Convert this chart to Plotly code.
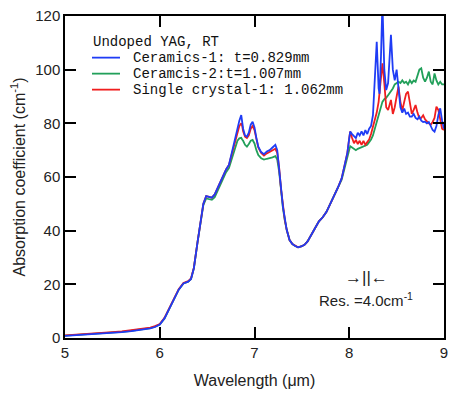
import plotly.graph_objects as go

# Wavelength grid (µm)
wavelength = [5.0, 5.1, 5.2, 5.3, 5.4, 5.5, 5.6, 5.7, 5.8, 5.9, 5.95,
              6.0, 6.05, 6.1, 6.15, 6.2, 6.25, 6.3, 6.33, 6.36, 6.4, 6.43, 6.46, 6.49,
              6.52, 6.55, 6.58, 6.62, 6.66, 6.7, 6.73, 6.76, 6.79, 6.82, 6.84, 6.86,
              6.87, 6.88, 6.9, 6.92, 6.94, 6.96, 6.98, 7.0, 7.02, 7.04, 7.07, 7.1,
              7.13, 7.16, 7.19, 7.22, 7.24, 7.26, 7.28, 7.3, 7.32, 7.34, 7.37, 7.4,
              7.43, 7.46, 7.5, 7.53, 7.56, 7.6, 7.64, 7.68, 7.72, 7.76, 7.8, 7.84,
              7.88, 7.92, 7.95, 7.98, 8.0, 8.01, 8.03, 8.05, 8.07, 8.09, 8.11, 8.13,
              8.15, 8.17, 8.19, 8.21, 8.23, 8.25, 8.27, 8.29, 8.31, 8.32, 8.335, 8.35,
              8.37, 8.39, 8.41, 8.44, 8.46, 8.48, 8.5, 8.52, 8.54, 8.56, 8.58, 8.6,
              8.62, 8.64, 8.66, 8.68, 8.7, 8.72, 8.74, 8.76, 8.78, 8.8, 8.82, 8.84,
              8.86, 8.88, 8.9, 8.92, 8.94, 8.96, 8.98, 9.0]

ceramics1 = [0.8, 1.0, 1.2, 1.4, 1.6, 1.9, 2.2, 2.6, 3.0, 3.6, 4.1,
             5.0, 7.3, 11.0, 14.5, 18.0, 20.3, 21.0, 22.0, 26.0, 36.0, 43.0, 50.0, 52.9,
             52.7, 52.3, 53.5, 56.5, 60.0, 62.8, 64.5, 69.0, 74.0, 78.5, 81.0, 83.1,
             80.0, 78.0, 75.5, 75.0, 76.5, 79.5, 80.6, 78.5, 74.5, 71.3, 69.3, 68.5,
             69.5, 70.0, 71.0, 72.0, 70.0, 64.0, 56.0, 49.0, 44.0, 40.3, 36.5, 35.0,
             34.3, 33.8, 34.2, 34.8, 36.0, 38.8, 41.0, 43.5, 45.0, 47.0, 49.8, 53.0,
             56.0, 59.5, 64.0, 69.0, 74.5, 76.9, 76.0, 75.2, 74.5, 76.5, 75.5, 77.0,
             75.5, 77.5, 76.0, 78.0, 79.0, 83.0, 95.0, 110.4, 93.0, 91.0, 105.0, 125.0,
             100.0, 92.4, 95.0, 113.0, 100.0, 96.0, 100.0, 92.0, 86.0, 84.0, 85.5, 83.5,
             84.0, 82.5, 82.5, 83.5, 82.0, 81.5, 82.5, 81.0, 80.5, 80.6, 80.0, 80.5,
             79.0, 77.5, 76.9, 79.0, 83.0, 85.6, 81.0, 78.0]

ceramics2 = [0.9, 1.1, 1.3, 1.5, 1.7, 2.0, 2.3, 2.7, 3.1, 3.7, 4.2,
             5.0, 7.3, 11.0, 14.5, 18.0, 20.3, 21.0, 22.0, 26.0, 36.0, 43.0, 49.5, 52.0,
             51.8, 51.5, 52.5, 55.5, 59.0, 61.8, 63.3, 66.5, 70.0, 73.5, 74.4, 74.6,
             74.0, 73.5, 72.0, 71.3, 72.3, 73.5, 73.8, 72.5, 70.0, 68.2, 67.0, 66.5,
             66.8, 67.0, 67.3, 67.8, 66.5, 62.0, 55.0, 48.5, 43.8, 40.3, 36.5, 35.0,
             34.3, 33.8, 34.2, 34.8, 36.0, 38.8, 41.0, 43.5, 45.0, 47.0, 49.8, 53.0,
             56.0, 59.0, 63.0, 67.5, 70.5, 71.5, 71.0, 70.5, 70.0, 70.5, 70.8, 71.0,
             71.3, 71.5, 72.0, 73.0, 74.0, 75.5, 78.0, 81.0, 83.0, 84.5, 86.5, 88.0,
             89.0, 89.5, 90.5, 92.0, 93.0, 94.5, 95.0, 95.5, 95.0, 96.0, 95.0, 95.5,
             94.5, 96.0, 95.0, 96.0, 95.5, 97.5, 100.0, 100.5, 97.0, 95.5, 97.0, 99.3,
             95.5, 94.5, 98.6, 96.0, 94.5, 95.5, 94.5, 94.5]

single_crystal1 = [1.0, 1.2, 1.4, 1.7, 1.9, 2.2, 2.5, 2.9, 3.3, 3.9, 4.4,
                   5.2, 7.5, 11.2, 14.7, 18.2, 20.5, 21.2, 22.2, 26.2, 36.0, 43.0, 50.0, 52.9,
                   52.7, 52.3, 53.5, 56.5, 60.0, 62.8, 64.5, 68.5, 73.0, 77.0, 79.0, 80.0,
                   79.0, 77.0, 75.0, 74.5, 75.5, 78.0, 79.0, 77.5, 74.0, 71.0, 69.0, 68.0,
                   68.8, 69.3, 70.0, 70.5, 69.0, 63.5, 55.5, 49.0, 44.0, 40.3, 36.5, 35.0,
                   34.3, 33.8, 34.2, 34.8, 36.0, 38.8, 41.0, 43.5, 45.0, 47.0, 49.8, 53.0,
                   56.0, 59.5, 64.0, 69.0, 74.5, 77.0, 74.5, 72.6, 73.8, 72.3, 73.5, 72.0,
                   73.5, 72.0, 73.0, 74.0, 76.0, 78.5, 81.0, 84.0, 88.0, 92.0, 98.0, 102.4,
                   95.0, 86.0, 85.0, 88.7, 83.5, 86.0, 90.0, 93.7, 88.0, 84.8, 88.0, 91.0,
                   91.8, 87.0, 83.5, 85.0, 86.8, 84.0, 81.8, 82.0, 83.0, 81.5, 80.6, 80.0,
                   79.5, 80.5, 82.0, 86.2, 85.0, 82.0, 78.0, 77.5]

series_names = ["Ceramics-1: t=0.829mm", "Ceramcis-2:t=1.007mm", "Single crystal-1: 1.062mm"]
series_colors = ["#1f3cf5", "#22a05a", "#f01e1e"]
legend_title = "Undoped YAG, RT"

x_ticks = [5, 6, 7, 8, 9]
y_ticks = [0, 20, 40, 60, 80, 100, 120]

fig = go.Figure()
# draw order: green, red, blue (blue on top)
for idx, ys in [(1, ceramics2), (2, single_crystal1), (0, ceramics1)]:
    fig.add_trace(go.Scatter(x=wavelength, y=ys, mode="lines", name=series_names[idx],
                             showlegend=False,
                             line=dict(color=series_colors[idx], width=1.8)))

axis_common = dict(showline=True, linecolor="black", linewidth=1.5, mirror="ticks",
                   ticks="inside", ticklen=11, tickwidth=1.5, tickcolor="black",
                   showgrid=False, zeroline=False, automargin=False,
                   ticklabeloverflow="allow",
                   tickfont=dict(family="Liberation Sans, Arial", size=15, color="#222"))

fig.update_xaxes(range=[5, 9], tickvals=x_ticks, ticktext=[str(t) for t in x_ticks],
                 title=dict(text="Wavelength (μm)",
                            font=dict(family="Liberation Sans, Arial", size=16, color="#222")),
                 **axis_common)
fig.update_yaxes(range=[0, 120], tickvals=y_ticks, ticktext=[str(t) for t in y_ticks],
                 title=dict(text="Absorption coefficient (cm<sup>-1</sup>)",
                            font=dict(family="Liberation Sans, Arial", size=16, color="#222")),
                 **axis_common)

# Manual legend (title, line samples, labels) in paper coordinates
mono = dict(family="Liberation Mono, monospace", size=14, color="#111")
fig.add_annotation(x=0.0686, y=0.92, xref="paper", yref="paper", text=legend_title,
                   showarrow=False, xanchor="left", yanchor="middle", font=mono)
legend_rows = [0.8707, 0.821, 0.7713]
for i, yy in enumerate(legend_rows):
    fig.add_shape(type="line", xref="paper", yref="paper", x0=0.0712, x1=0.1451,
                  y0=yy, y1=yy, line=dict(color=series_colors[i], width=1.8))
    fig.add_annotation(x=0.1741, y=yy, xref="paper", yref="paper", text=series_names[i],
                       showarrow=False, xanchor="left", yanchor="middle", font=mono)

fig.add_annotation(x=8.18, y=22.4, xref="x", yref="y", text="→||←", showarrow=False,
                   font=dict(family="Liberation Sans, Arial", size=17, color="#222"))
fig.add_annotation(x=8.18, y=14.2, xref="x", yref="y", text="Res. =4.0cm<sup>-1</sup>",
                   showarrow=False,
                   font=dict(family="Liberation Sans, Arial", size=15, color="#222"))

# The page body adds an 8px offset, so the figure is sized to fit the 459x399 window.
fig.update_layout(
    width=451, height=383,
    margin=dict(l=57, r=15, t=8, b=53),
    paper_bgcolor="white", plot_bgcolor="white",
    showlegend=False,
)

fig.write_html("out.html")
